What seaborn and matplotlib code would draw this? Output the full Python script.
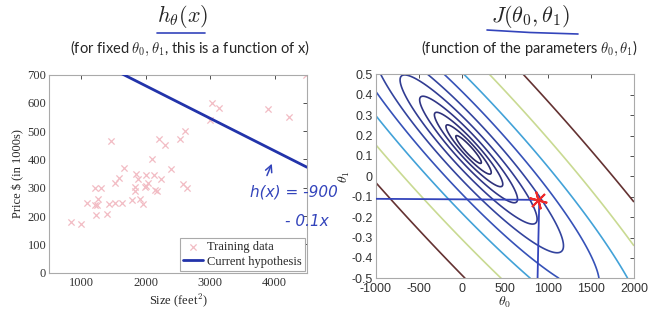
import numpy as np
import pandas as pd
import matplotlib
matplotlib.use("Agg")
import matplotlib.pyplot as plt
import seaborn as sns
from matplotlib.lines import Line2D
from matplotlib.ticker import FuncFormatter

# ---------------- data ----------------
size_sqft = [841, 991, 1094, 1208, 1301, 1239, 1264, 1223, 1394, 1435,
             1523, 1627, 1782, 1911, 1952, 1840, 2170, 1461, 3031, 3135,
             3890, 4215, 2608, 2200, 2530, 2293, 2092, 2396, 1658, 1580,
             1523, 1849, 1999, 2132, 2241, 1884, 1833, 2004, 2572, 2634,
             2143, 1988, 2040, 1213, 3000, 4478]
price_k = [180, 171, 247, 300, 300, 238, 259, 203, 206, 241,
           245, 245, 257, 259, 241, 290, 288, 465, 600, 580,
           577, 550, 500, 473, 471, 452, 400, 368, 371, 333,
           317, 348, 345, 344, 331, 332, 304, 306, 312, 300,
           292, 301, 318, 239, 540, 700]

# current hypothesis parameters
theta0_h = 890.0
theta1_h = -0.115
size_range = [500, 4500]

# parameter grid ranges for J
theta0_range = [-1000, 2000]
theta1_range = [-0.5, 0.5]
contour_levels = list(np.logspace(3, 6, 12))
contour_colors = ["#24245e", "#282864", "#2b2b6a", "#2d2e72", "#2f327c",
                  "#303686", "#313c92", "#33449e", "#3652b8", "#42a2d8",
                  "#c9da92", "#643232"]

x_ticks_left = [1000, 2000, 3000, 4000]
y_ticks_left = [0, 100, 200, 300, 400, 500, 600, 700]
x_ticks_right = [-1000, -500, 0, 500, 1000, 1500, 2000]
y_ticks_right = [-0.5, -0.4, -0.3, -0.2, -0.1, 0, 0.1, 0.2, 0.3, 0.4, 0.5]

# ---------------- style ----------------
sns.set_theme(style="white")
plt.rcParams.update({
    "axes.unicode_minus": False,
    "mathtext.fontset": "cm",
    "xtick.direction": "in",
    "ytick.direction": "in",
    "xtick.top": True,
    "ytick.right": True,
    "xtick.major.size": 3,
    "ytick.major.size": 3,
    "xtick.major.width": 0.6,
    "ytick.major.width": 0.6,
    "xtick.color": "#333333",
    "ytick.color": "#333333",
    "xtick.major.pad": 3,
    "ytick.major.pad": 2,
    "axes.edgecolor": "#aaaaaa",
    "axes.linewidth": 0.8,
})
plt.rcParams["font.family"] = ["Liberation Serif", "DejaVu Serif"]

ink = "#3344bb"

fig = plt.figure(figsize=(6.58, 3.35), dpi=100)
ax1 = fig.add_axes([0.0745, 0.186, 0.392, 0.5916])
ax2 = fig.add_axes([0.571, 0.169, 0.3925, 0.609])

# ---------------- left: data + hypothesis ----------------
df = pd.DataFrame({"size": size_sqft, "price": price_k})
sns.scatterplot(data=df, x="size", y="price", ax=ax1, marker="x",
                color="#f2bcc4", s=20, linewidth=0.9, label="Training data",
                zorder=2)
hyp = pd.DataFrame({"size": size_range})
hyp["price"] = theta0_h + theta1_h * hyp["size"]
sns.lineplot(data=hyp, x="size", y="price", ax=ax1, color="#2233aa",
             linewidth=2.0, label="Current hypothesis", zorder=3)

ax1.set_xlim(500, 4500)
ax1.set_ylim(0, 700)
ax1.set_xticks(x_ticks_left)
ax1.set_yticks(y_ticks_left)
ax1.tick_params(labelsize=9)
ax1.set_xlabel("Size (feet$^2$)", fontsize=9, labelpad=2)
ax1.set_ylabel("Price \\$ (in 1000s)", fontsize=9, labelpad=2)
leg = ax1.legend(loc="lower right", fontsize=9, frameon=True, fancybox=False,
                 edgecolor="#aaaaaa", framealpha=1, borderaxespad=0.15,
                 handlelength=1.6, handletextpad=0.3, borderpad=0.25,
                 labelspacing=0.2)
leg.get_frame().set_linewidth(0.8)

# handwritten annotation
ax1.annotate("", xy=(3972, 394), xytext=(3863, 334),
             arrowprops=dict(arrowstyle="->", color=ink, lw=1.1),
             annotation_clip=False)
ax1.text(4298, 284, "h(x) = -900", color=ink, fontsize=11, style="italic",
         family="DejaVu Sans", ha="center", va="center", clip_on=False)
ax1.text(4499, 182, "- 0.1x", color=ink, fontsize=11, style="italic",
         family="DejaVu Sans", ha="center", va="center", clip_on=False)

# ---------------- right: cost contours ----------------
xs = np.array(size_sqft, dtype=float)
ys = np.array(price_k, dtype=float)
t0 = np.linspace(theta0_range[0], theta0_range[1], 300)
t1 = np.linspace(theta1_range[0], theta1_range[1], 300)
T0, T1 = np.meshgrid(t0, t1)
pred = T0[..., None] + T1[..., None] * xs[None, None, :]
J = ((pred - ys[None, None, :]) ** 2).mean(axis=2) / 2.0

ax2.contour(T0, T1, J, levels=contour_levels, colors=contour_colors,
            linewidths=1.2)

# handwritten guide lines to current parameters
ax2.plot([theta0_range[0], theta0_h], [theta1_h + 0.005, theta1_h],
         color=ink, lw=1.3, zorder=4)
ax2.plot([theta0_h + 10, theta0_h, theta0_h - 10], [theta1_h, -0.3, theta1_range[0]],
         color=ink, lw=1.3, zorder=4)
ax2.plot([theta0_h], [theta1_h], marker=(6, 2, 15), markersize=13,
         color="#ee2a2a", mew=1.4, zorder=5)

ax2.set_xlim(*theta0_range)
ax2.set_ylim(*theta1_range)
ax2.set_xticks(x_ticks_right)
ax2.set_yticks(y_ticks_right)
ax2.xaxis.set_major_formatter(FuncFormatter(lambda v, p: f"{v:g}"))
ax2.yaxis.set_major_formatter(FuncFormatter(lambda v, p: f"{v:g}"))
for lab in ax2.get_xticklabels() + ax2.get_yticklabels():
    lab.set_family("Liberation Sans")
ax2.tick_params(labelsize=9)
ax2.set_xlabel(r"$\theta_0$", fontsize=10, labelpad=0)
ax2.set_ylabel(r"$\theta_1$", fontsize=10, labelpad=0)

# ---------------- titles ----------------
fig.text(183 / 658, 1 - 16 / 335, r"$h_\theta(x)$", ha="center", va="center",
         fontsize=16)
fig.text(190 / 658, 1 - 48 / 335,
         r"(for fixed $\theta_0, \theta_1$, this is a function of x)",
         ha="center", va="center", fontsize=10.5, family=["Lato", "DejaVu Sans"])
fig.text(530 / 658, 1 - 16 / 335, r"$J(\theta_0,\theta_1)$", ha="center",
         va="center", fontsize=16)
fig.text(530 / 658, 1 - 48 / 335,
         r"(function of the parameters $\theta_0, \theta_1$)",
         ha="center", va="center", fontsize=10.5, family=["Lato", "DejaVu Sans"])

fig.add_artist(Line2D([157 / 658, 205 / 658], [1 - 33 / 335, 1 - 33 / 335],
                      color=ink, lw=1.2))
fig.add_artist(Line2D([487 / 658, 530 / 658, 578 / 658],
                      [1 - 30 / 335, 1 - 32.5 / 335, 1 - 34 / 335],
                      color=ink, lw=1.2))

fig.savefig("out.png", dpi=100)
